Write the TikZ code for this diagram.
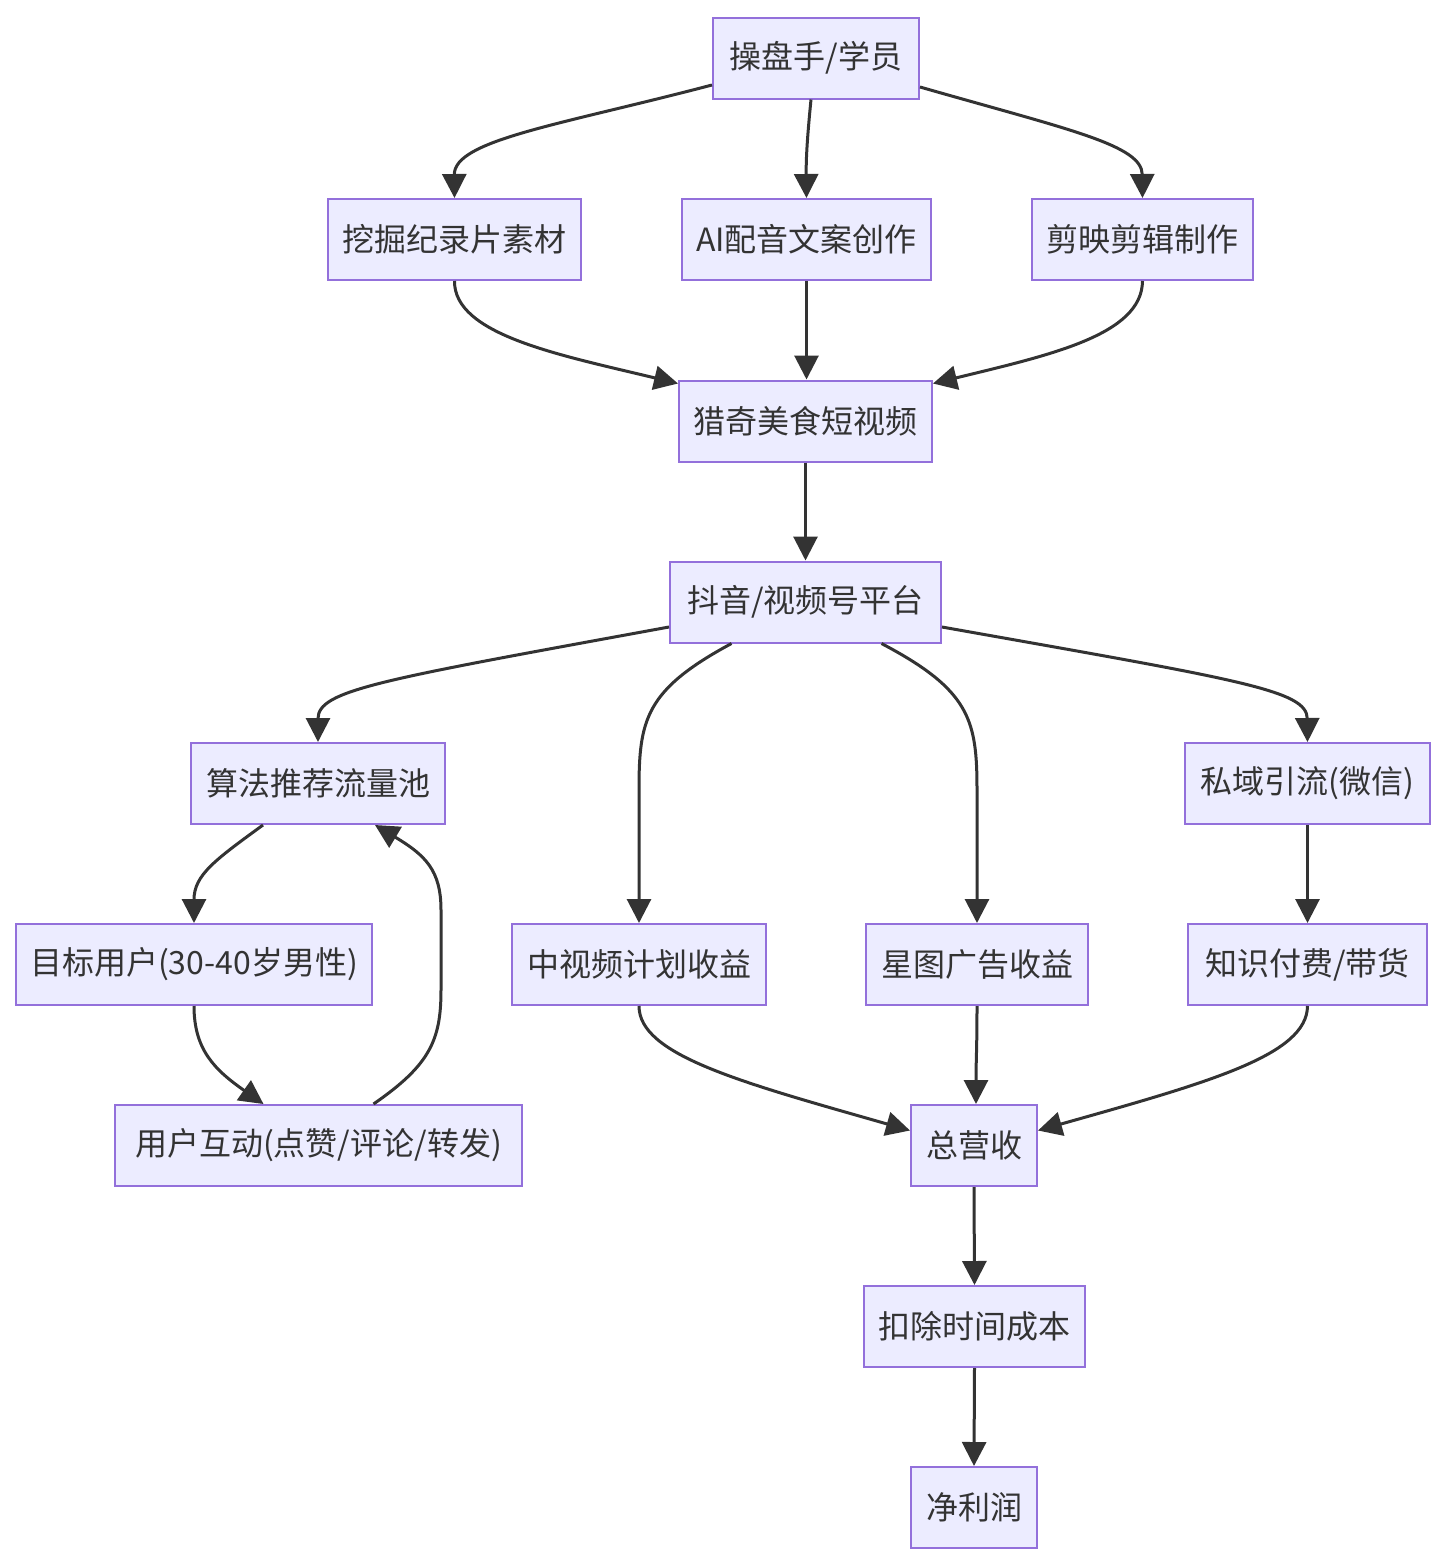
\documentclass[tikz,border=0pt]{standalone}
\usepackage{fontspec}
\setmainfont{Noto Sans CJK SC}
\usetikzlibrary{arrows.meta}
\definecolor{boxfill}{HTML}{ECECFF}
\definecolor{boxline}{HTML}{9370DB}
\definecolor{ink}{HTML}{333333}
\begin{document}
\begin{tikzpicture}[x=0.5pt,y=-0.5pt,
  box/.style={draw=boxline,fill=boxfill,line width=1pt,minimum height=40.5pt,inner sep=0pt,text=ink,font=\fontsize{16pt}{18pt}\selectfont},
  edge/.style={draw=ink,line width=1.5pt,-{Triangle[length=12pt,width=12pt]}}]
\useasboundingbox (0,0) rectangle (1448,1564);
\node[box,minimum width=103pt] (n1) at (816,58) {操盘手/学员};
\node[box,minimum width=126.5pt] (n2) at (454.5,239.5) {挖掘纪录片素材};
\node[box,minimum width=124.5pt] (n3) at (806.5,239.5) {AI配音文案创作};
\node[box,minimum width=110.5pt] (n4) at (1142.5,239.5) {剪映剪辑制作};
\node[box,minimum width=126.5pt] (n5) at (805.5,421) {猎奇美食短视频};
\node[box,minimum width=135.5pt] (n6) at (805.5,602) {抖音/视频号平台};
\node[box,minimum width=127pt] (n7) at (318,783.5) {算法推荐流量池};
\node[box,minimum width=122.5pt] (n8) at (1307.5,783.5) {私域引流(微信)};
\node[box,minimum width=178pt] (n9) at (194,964.5) {目标用户(30-40岁男性)};
\node[box,minimum width=127pt] (n10) at (639,964.5) {中视频计划收益};
\node[box,minimum width=111pt] (n11) at (977,964.5) {星图广告收益};
\node[box,minimum width=119.5pt] (n12) at (1307.5,964.5) {知识付费/带货};
\node[box,minimum width=203.5pt] (n13) at (318.5,1145.5) {用户互动(点赞/评论/转发)};
\node[box,minimum width=63pt] (n14) at (974,1145.5) {总营收};
\node[box,minimum width=110.5pt] (n15) at (974.5,1326.5) {扣除时间成本};
\node[box,minimum width=63pt] (n16) at (974,1507.5) {净利润};

\path[edge] ([yshift=-13.5pt]n1.west) .. controls (560,125) and (454,140) .. (n2.north);
\path[edge] ([xshift=-2.5pt]n1.south) .. controls (807,140) and (806,160) .. (n3.north);
\path[edge] ([yshift=-14.5pt]n1.east) .. controls (1070,130) and (1142,145) .. (n4.north);
\path[edge] (n2.south) .. controls (454,335) and (560,355) .. ([yshift=-2pt]n5.north west);
\path[edge] (n3.south) -- (n3.south |- n5.north);
\path[edge] (n4.south) .. controls (1142,335) and (1050,355) .. ([yshift=-2pt]n5.north east);
\path[edge] (n5.south) -- (n6.north);
\path[edge] ([yshift=-12.5pt]n6.west) .. controls (380,680) and (318,690) .. (n7.north);
\path[edge] ([yshift=-12.5pt]n6.east) .. controls (1240,680) and (1307,690) .. (n8.north);
\path[edge] ([xshift=-37pt]n6.south) .. controls (645,690) and (639,720) .. (639,790) -- (n10.north);
\path[edge] ([xshift=38pt]n6.south) .. controls (970,690) and (977,720) .. (977,790) -- (n11.north);
\path[edge] ([xshift=-27.5pt]n7.south) .. controls (215,860) and (194,875) .. (n9.north);
\path[edge] (n9.south) .. controls (194,1050) and (215,1070) .. ([xshift=-27.5pt]n13.north);
\path[edge] ([xshift=27.5pt]n13.north) .. controls (430,1065) and (441,1040) .. (441,990) -- (441,910) .. controls (441,870) and (425,855) .. ([xshift=28.5pt]n7.south);
\path[edge] (n8.south) -- (n12.north);
\path[edge] (n10.south) .. controls (639,1055) and (740,1082) .. ([yshift=7.5pt]n14.west);
\path[edge] (n11.south) .. controls (977,1050) and (976,1060) .. ([xshift=1pt]n14.north);
\path[edge] (n12.south) .. controls (1307,1055) and (1210,1082) .. ([yshift=7.5pt]n14.east);
\path[edge] (n14.south) -- (n15.north);
\path[edge] (n15.south) -- (n16.north);
\end{tikzpicture}
\end{document}
